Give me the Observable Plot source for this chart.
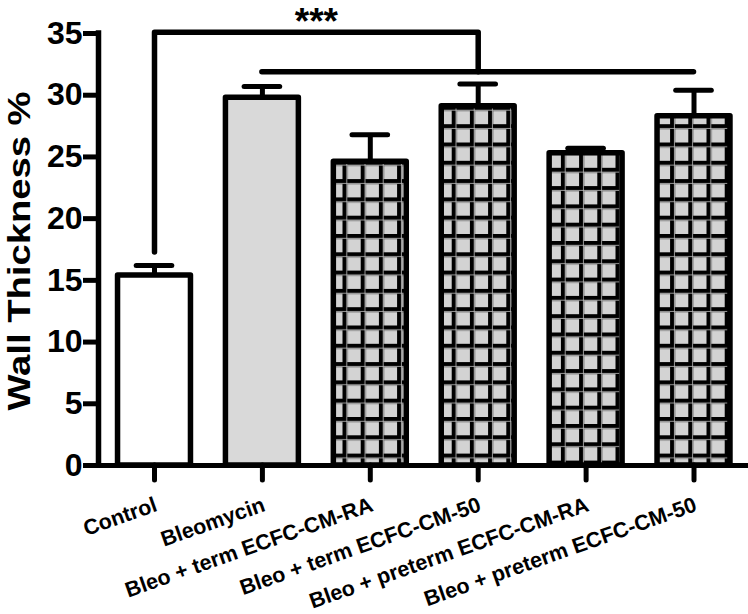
<!DOCTYPE html>
<html>
<head>
<meta charset="utf-8">
<script src="https://cdn.jsdelivr.net/npm/d3@7"></script>
<script src="https://cdn.jsdelivr.net/npm/@observablehq/plot@0.6"></script>
<style>
  html, body { margin: 0; padding: 0; background: #fff; }
  #chart svg { display: block; }
</style>
</head>
<body>
<div id="chart"></div>
<script>
// ---- data ----
const groups = [
  "Control",
  "Bleomycin",
  "Bleo + term ECFC-CM-RA",
  "Bleo + term ECFC-CM-50",
  "Bleo + preterm ECFC-CM-RA",
  "Bleo + preterm ECFC-CM-50"
];
const means = [15.4, 29.8, 24.6, 29.1, 25.3, 28.3];
const upper = [16.2, 30.7, 26.8, 30.9, 25.7, 30.4]; // mean + SEM
const yTicks = [0, 5, 10, 15, 20, 25, 30, 35];
const yTitle = "Wall Thickness %";

// significance annotation
const sigText = "***";
const sigFrom = 0, sigTo = 3;          // bracket from Control to term-50
const sigStartValue = 17.3, sigTopValue = 35.1;
const sigBarFrom = 1, sigBarTo = 5;    // horizontal bar over treated groups
const sigBarValue = 31.9;
const sigTextValue = 37.08;

// ---- build ----
const data = groups.map((g, i) => ({i, group: g, mean: means[i], upper: upper[i]}));
const halfW = 0.338, capHalf = 0.165;
const font = "'Liberation Sans', Arial, Helvetica, sans-serif";

const bracket = [
  {x: sigFrom, y: sigStartValue},
  {x: sigFrom, y: sigTopValue},
  {x: sigTo, y: sigTopValue},
  {x: sigTo, y: sigBarValue}
];

const barOpts = (fill) => ({
  x1: d => d.i - halfW, x2: d => d.i + halfW, y1: 0, y2: "mean",
  fill, stroke: "black", strokeWidth: 5.5, strokeLinejoin: "round"
});

const svg = Plot.plot({
  width: 748,
  height: 614,
  marginLeft: 98,
  marginRight: 0,
  marginTop: 33,
  marginBottom: 149,
  style: {fontFamily: font, fontWeight: "bold", color: "black", background: "white", overflow: "visible"},
  x: {type: "linear", domain: [-0.519, 5.505]},
  y: {domain: [0, 35]},
  marks: [
    Plot.rectY(data.filter(d => d.i === 0), barOpts("white")),
    Plot.rectY(data.filter(d => d.i === 1), barOpts("#d9d9d9")),
    Plot.rectY(data.filter(d => d.i >= 2 && d.i !== 4), barOpts("url(#grid)")),
    Plot.rectY(data.filter(d => d.i === 4), barOpts("url(#grid2)")),
    Plot.ruleX(data, {x: "i", y1: "mean", y2: "upper", strokeWidth: 5}),
    Plot.ruleY(data, {y: "upper", x1: d => d.i - capHalf, x2: d => d.i + capHalf, strokeWidth: 5, strokeLinecap: "round"}),
    // axes
    Plot.ruleY([0], {strokeWidth: 5}),
    Plot.ruleX([-0.519], {y1: 0, y2: 35, strokeWidth: 5.5, strokeLinecap: "square"}),
    Plot.axisY({ticks: yTicks, tickSize: 15, tickPadding: 1, fontSize: 32, fontWeight: "bold", strokeWidth: 5, label: null}),
    Plot.axisX({ticks: groups.map((_, i) => i), tickSize: 15, strokeWidth: 5, strokeLinecap: "round", fill: "none", label: null}),
    Plot.text(data, {x: "i", y: () => 0, text: "group", rotate: -19.5, textAnchor: "end", lineAnchor: "bottom",
      dx: 4, dy: 45, fontSize: 21.5, fontWeight: "bold"}),
    Plot.text([yTitle], {frameAnchor: "left", rotate: -90, dx: -68.5, dy: 1.5, fontSize: 32, fontWeight: "bold",
      textAnchor: "middle", lineAnchor: "bottom"}),
    // significance
    Plot.line(bracket, {x: "x", y: "y", strokeWidth: 5.5, strokeLinejoin: "round", strokeLinecap: "round"}),
    Plot.ruleY([sigBarValue], {x1: sigBarFrom, x2: sigBarTo, strokeWidth: 5.5, strokeLinecap: "round"}),
    Plot.text([sigText], {x: (sigFrom + sigTo) / 2, y: sigTextValue, fontSize: 37, fontWeight: "bold", lineAnchor: "top"})
  ]
});

// the axis title in the reference is set in a tall, condensed bold face
d3.select(svg).selectAll("text")
  .filter(function () { return this.textContent === yTitle; })
  .attr("textLength", 319)
  .attr("lengthAdjust", "spacingAndGlyphs");

// grid hatch patterns for the treated groups
const defs = d3.select(svg).insert("defs", ":first-child");
function addPattern(id, yOffset) {
  const p = defs.append("pattern")
    .attr("id", id)
    .attr("patternUnits", "userSpaceOnUse")
    .attr("x", 14.9).attr("y", yOffset)
    .attr("width", 18.2).attr("height", 18.3);
  p.append("rect").attr("width", 18.2).attr("height", 18.3).attr("fill", "#d3d3d3");
  p.append("rect").attr("x", 0).attr("y", 0).attr("width", 5).attr("height", 18.3).attr("fill", "black");
  p.append("rect").attr("x", 0).attr("y", 0).attr("width", 18.2).attr("height", 5).attr("fill", "black");
  p.append("rect").attr("x", 3.8).attr("y", 0).attr("width", 0.8).attr("height", 18.3).attr("fill", "#bdbdbd");
  p.append("rect").attr("x", 0).attr("y", 3.8).attr("width", 18.2).attr("height", 0.8).attr("fill", "#bdbdbd");
}
addPattern("grid", 14.4);
addPattern("grid2", 21.4);

document.getElementById("chart").append(svg);
</script>
</body>
</html>
